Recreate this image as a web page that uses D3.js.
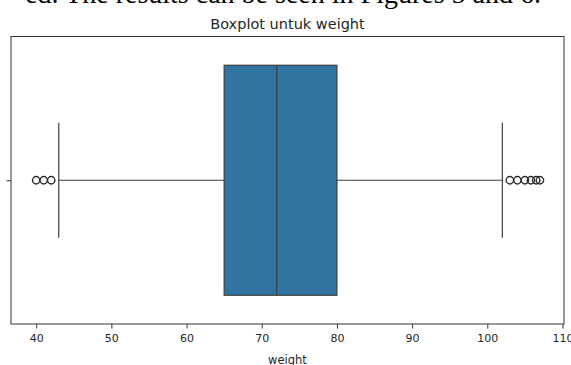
<!DOCTYPE html>
<html>
<head>
<meta charset="utf-8">
<script src="https://cdn.jsdelivr.net/npm/d3@7"></script>
<style>
  body { margin: 0; background: #fff; }
  svg { display: block; }
  text { font-family: "DejaVu Sans", sans-serif; fill: #262626; }
</style>
</head>
<body>
<div id="chart"></div>
<script>
// box stats
var stats = { q1: 65, median: 72, q3: 80, low: 43, high: 102 };
var fliersLow = [40, 41, 42];
var fliersHigh = [103, 104, 105, 105.8, 106.5, 107];
var xTicks = [40, 50, 60, 70, 80, 90, 100, 110];

var w = 571, h = 365;
var padL = 11, padR = 564, padT = 36.5, padB = 324;

var svg = d3.select('#chart').append('svg')
  .attr('width', w)
  .attr('height', h);

// caption line cut off above the figure
svg.append('text')
  .attr('x', 541)
  .attr('y', 3)
  .attr('text-anchor', 'end')
  .style('font-family', '"Liberation Serif", serif')
  .style('font-size', '28px')
  .style('fill', '#000')
  .text('ed. The results can be seen in Figures 5 and 6.');

var x = d3.scaleLinear().domain([36.65, 110.2]).range([padL, padR]);
var y = d3.scaleLinear().domain([-0.5, 0.5]).range([padT, padB]);

var lineCol = '#3f3f3f';

// x axis
var xAxis = d3.axisBottom(x).tickValues(xTicks).tickSize(4.5).tickPadding(6);
var gx = svg.append('g')
  .attr('transform', 'translate(0,' + padB + ')')
  .call(xAxis);
gx.select('.domain').remove();
gx.selectAll('line').attr('stroke', '#333').attr('stroke-width', 1);
gx.selectAll('text').style('font-size', '11px').style('fill', '#262626');

// lone y tick, no label
var yAxis = d3.axisLeft(y).tickValues([0]).tickFormat('').tickSize(4.5);
var gy = svg.append('g')
  .attr('transform', 'translate(' + padL + ',0)')
  .call(yAxis);
gy.select('.domain').remove();
gy.selectAll('line').attr('stroke', '#333');

// whiskers
svg.append('line')
  .attr('x1', x(stats.low)).attr('x2', x(stats.q1))
  .attr('y1', y(0)).attr('y2', y(0))
  .attr('stroke', lineCol).attr('stroke-width', 1.2);
svg.append('line')
  .attr('x1', x(stats.q3)).attr('x2', x(stats.high))
  .attr('y1', y(0)).attr('y2', y(0))
  .attr('stroke', lineCol).attr('stroke-width', 1.2);

// caps (half the box height)
[stats.low, stats.high].forEach(function(v) {
  svg.append('line')
    .attr('x1', x(v)).attr('x2', x(v))
    .attr('y1', y(-0.2)).attr('y2', y(0.2))
    .attr('stroke', lineCol).attr('stroke-width', 1.2);
});

// box
svg.append('rect')
  .attr('x', x(stats.q1))
  .attr('y', y(-0.4))
  .attr('width', x(stats.q3) - x(stats.q1))
  .attr('height', y(0.4) - y(-0.4))
  .attr('fill', '#3274a1')
  .attr('stroke', lineCol)
  .attr('stroke-width', 1.2);

// median
svg.append('line')
  .attr('x1', x(stats.median)).attr('x2', x(stats.median))
  .attr('y1', y(-0.4)).attr('y2', y(0.4))
  .attr('stroke', lineCol).attr('stroke-width', 1.2);

// outliers
svg.selectAll('.flier')
  .data(fliersLow.concat(fliersHigh))
  .enter()
  .append('circle')
  .attr('class', 'flier')
  .attr('cx', function(d) { return x(d); })
  .attr('cy', y(0))
  .attr('r', 3.7)
  .attr('fill', 'none')
  .attr('stroke', '#2a2a2a')
  .attr('stroke-width', 1.4);

// frame
svg.append('rect')
  .attr('x', padL).attr('y', padT)
  .attr('width', padR - padL).attr('height', padB - padT)
  .attr('fill', 'none')
  .attr('stroke', '#333')
  .attr('stroke-width', 1);

// title and axis label
svg.append('text')
  .attr('x', (padL + padR) / 2)
  .attr('y', 29)
  .attr('text-anchor', 'middle')
  .style('font-size', '14.5px')
  .text('Boxplot untuk weight');

svg.append('text')
  .attr('x', (padL + padR) / 2)
  .attr('y', 364)
  .attr('text-anchor', 'middle')
  .style('font-size', '11.5px')
  .text('weight');
</script>
</body>
</html>
